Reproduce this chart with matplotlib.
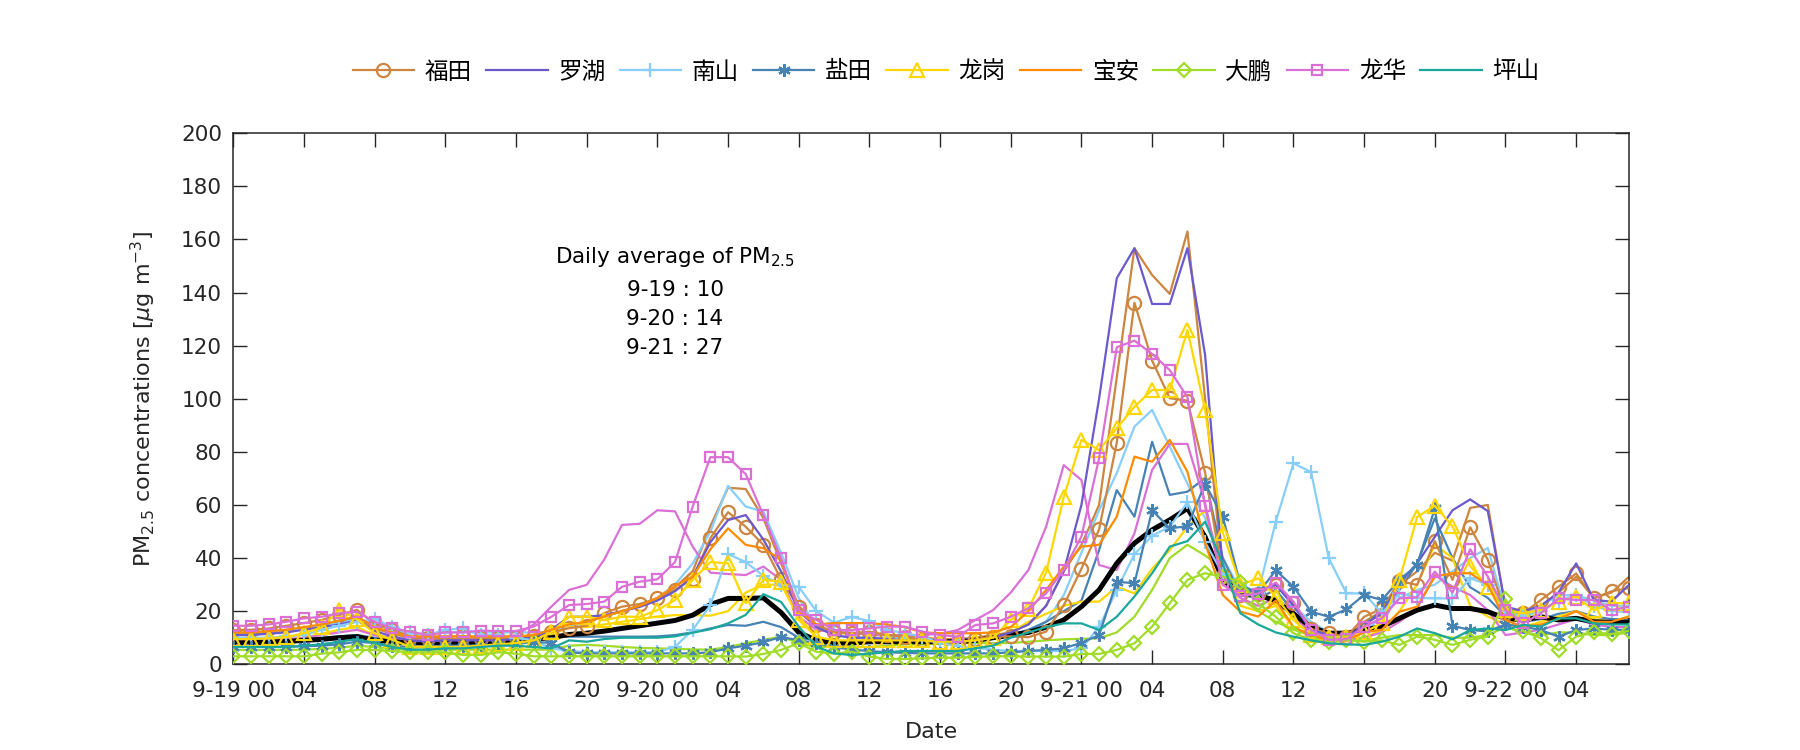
import matplotlib
matplotlib.use('Agg')
import matplotlib.pyplot as plt
import numpy as np

plt.rcParams['font.family'] = ['DejaVu Sans', 'Noto Sans CJK SC']
plt.rcParams['mathtext.fontset'] = 'dejavusans'

hours = np.arange(80)

futian = [12.9, 13.0, 13.5, 14.5, 15.5, 16.7, 18.5, 20.5, 15.2, 13.0,
          10.4, 9.8, 10.4, 10.7, 9.8, 9.8, 10.2, 10.8, 12.0, 13.6,
          14.5, 19.3, 21.7, 22.7, 24.8, 28.0, 32.2, 47.5, 57.3, 51.8,
          45.0, 32.0, 21.7, 14.8, 12.0, 11.7, 12.3, 11.0, 10.4, 9.2,
          8.1, 8.1, 9.4, 10.4, 10.5, 10.2, 12.3, 22.2, 36.0, 50.8,
          83.5, 136.2, 114.4, 100.2, 99.3, 72.2, 33.3, 26.1, 26.5, 29.9,
          23.0, 13.3, 11.7, 10.2, 17.9, 20.9, 31.3, 29.9, 46.4, 31.8,
          51.6, 39.4, 19.2, 19.2, 24.2, 29.2, 34.2, 24.8, 27.5, 28.7]
luohu = [11, 11, 11.5, 12, 13, 14, 15, 16.5, 12.5, 10.5,
         9, 8.5, 9, 9, 9, 9, 9.5, 10, 13, 17.9,
         17.9, 18.5, 20, 21.6, 24, 27.5, 33, 46, 54.3, 56.2,
         47, 35, 20, 14, 11, 10, 10, 9.5, 9, 9,
         8.5, 8.5, 9, 10, 12, 15, 22, 35, 60, 100,
         145.4, 156.7, 135.7, 135.7, 156.7, 116.5, 36, 27, 28, 30,
         22, 13, 11, 10, 15, 19, 30.6, 38, 48, 58,
         62.1, 57.7, 21.7, 20, 22, 27, 38, 24.2, 23.6, 30]
nanshan = [10, 10, 10, 10.5, 11, 13, 14.5, 16, 17, 14,
           12, 11, 13, 13.5, 11, 11, 10, 9, 6, 5,
           4.5, 4.5, 4.5, 4.5, 4.5, 6.6, 12.9, 22.3, 41.5, 38.5,
           33.3, 30, 29.2, 20, 15.7, 17.8, 16.3, 12.9, 11.7, 10.4,
           8, 6.8, 6.2, 5.5, 5, 5, 5, 5, 6, 14,
           28, 41.5, 48.4, 51.8, 61, 46, 34, 30, 27, 53.7,
           75.7, 72.4, 39.9, 26.7, 26.7, 19.2, 26.7, 25, 24.8, 24.8,
           32.4, 30, 20, 18, 20, 24, 26, 22, 20, 20]
yantian = [6.6, 6.6, 6.6, 6.6, 6.8, 7, 7.5, 8.5, 8, 7,
           6.5, 6.5, 7, 7, 7, 7.5, 7.5, 8.5, 8, 4.5,
           4.1, 4.1, 4.1, 4.1, 4.1, 4.1, 4.1, 4.5, 6, 7,
           8.3, 10.3, 9, 8, 6.5, 5.5, 5, 4.5, 4.3, 4.1,
           4.1, 4.1, 4.1, 4.1, 4.5, 5, 5.4, 6, 8.1, 11,
           31.1, 30.5, 58, 51.2, 52, 68, 55.6, 29.9, 26.7, 35.4,
           29.2, 19.8, 17.9, 20.7, 26.1, 24.2, 31.8, 37.4, 58.7, 14.5,
           12.9, 12.4, 15, 14.2, 12.9, 10.4, 12.9, 13.5, 13, 12.9]
longgang = [9.5, 9.5, 9.8, 10.2, 11.7, 13.9, 20.5, 17, 11.7, 9.2,
            6.6, 6.6, 6.5, 6.6, 7, 7.5, 8, 9, 12, 17.9,
            17.9, 16.7, 17.9, 17.9, 20.4, 24.2, 31.8, 38.5, 38, 23,
            31.8, 31.1, 16.7, 10.4, 9, 9, 9, 9, 9, 9,
            8.5, 8.5, 9, 10, 16.7, 21, 34.5, 63, 84.5, 80.7,
            88.9, 97, 103.3, 103.3, 125.9, 95.8, 49.6, 29.9, 32.4, 25.5,
            16.7, 11, 10.4, 10.4, 12, 15.5, 31.8, 55.5, 59.7, 52,
            37, 29.2, 20.4, 19.2, 20.4, 23.6, 25.5, 20.4, 23, 23]
baoan = [12, 12, 12.5, 13, 14, 15, 16.5, 18, 14, 12,
         10.5, 10.5, 10.5, 10.5, 10.5, 10.5, 10.5, 11, 13, 15,
         16, 18, 20, 22, 25, 29.5, 33, 43.3, 51.2, 45,
         43.7, 39.3, 20, 15, 15.5, 15.5, 15.5, 15, 14, 12,
         11.7, 11.7, 11.7, 12, 14, 20, 28, 36.8, 44.3, 45,
         55.6, 78.2, 76.3, 84.5, 72.5, 45.6, 26.1, 19.8, 18, 24,
         14, 11, 9, 9, 12, 13, 19.8, 21.7, 33, 34.3,
         34.3, 29.9, 16.7, 14, 15, 17, 20, 16, 16, 18]
dapeng = [3, 3, 3, 3, 3, 4, 4.5, 5.4, 5.4, 5,
          4.5, 4.5, 4.5, 3.5, 3.5, 4.5, 4, 3, 3, 3,
          3, 3, 3, 3, 3, 3, 3, 3, 3, 2.9,
          3.9, 5.4, 7.9, 4.7, 4, 4.7, 2.9, 2, 2, 2.2,
          2.5, 2.5, 2.8, 3, 3, 2.9, 2.9, 2.9, 3.9, 3.9,
          5.4, 7.9, 14.2, 23, 31.8, 34.3, 33, 31.1, 23, 17.9,
          11.7, 9.2, 8.5, 9.2, 8.5, 9, 7.3, 10.4, 9.2, 7.3,
          9.2, 10.4, 24.5, 12.5, 9.8, 5.3, 10.4, 12, 11.4, 12.6]
longhua = [14.5, 14.5, 15, 16, 17.3, 17.9, 19.2, 19.8, 16, 13.5,
           12.3, 11, 12, 12, 12.7, 12.5, 12.5, 14.2, 17.9, 22.3,
           22.7, 23.6, 29.2, 31.1, 32, 38.5, 59.4, 78, 78, 71.6,
           56.2, 39.9, 20.4, 16.7, 12.9, 12.9, 13.5, 14.2, 14.2, 12.3,
           11, 10.4, 14.8, 15.4, 17.9, 21.1, 26.7, 35.5, 48.1, 77.6,
           119.4, 121.9, 116.9, 110.8, 100.6, 59.5, 29.9, 25.8, 26.6, 30.8,
           23.6, 12.9, 9.2, 9.4, 14.2, 17.3, 24.8, 25.2, 34.9, 27,
           43.3, 33, 20.4, 15.4, 19.2, 24.8, 24.2, 24.2, 20.4, 21.7]
pingshan = [6.5, 6.5, 6.5, 6.5, 7, 7.5, 8.5, 9.5, 8, 6.5,
            5.5, 5.5, 6, 6, 6.5, 7, 7, 6.5, 6, 9,
            8.5, 9.5, 10, 10, 10, 10.5, 11.9, 13.2, 15.4, 18.6,
            26.4, 23.5, 14.2, 6.6, 4.1, 3.5, 4, 4.5, 5, 5,
            5, 5, 6, 7, 10, 12, 14, 15.4, 15.4, 12.9,
            17.9, 25.5, 34.3, 44.3, 46.4, 53.7, 38, 19.2, 15, 12,
            10.4, 9, 7.9, 7.5, 7.3, 8.5, 10.4, 13.5, 11.7, 9.4,
            12.9, 13.5, 12.9, 14.8, 14.2, 17.3, 17.3, 15.4, 15, 15]

# second stations (no legend entry)
futian2 = [11.5, 11.5, 12, 12.5, 13.5, 14.5, 16, 17.5, 13.5, 11.5,
           10, 9.5, 9.5, 9.5, 9.5, 9.5, 10, 10.5, 12, 14,
           16, 18, 20, 22, 25, 29, 35, 52, 66.5, 66,
           55, 38, 22, 15, 12, 11.5, 11.5, 11, 10.5, 10,
           9.5, 9.5, 10, 11, 12, 15, 22, 35, 45, 60,
           108, 156.7, 146.6, 139.5, 163, 100, 34, 26, 27, 30,
           23, 14, 11, 10, 16, 20, 30, 35, 42, 39,
           58.9, 60, 21, 20, 22, 27, 33, 25, 27, 33]
nanshan2 = [12, 12, 12.5, 13, 13.5, 14.5, 15.5, 17, 15, 13,
            11.5, 11.5, 12, 12, 12, 12, 12, 12, 12, 14,
            16, 18, 20, 22, 25, 30, 38, 50, 67.2, 59.4,
            57.5, 42, 25, 14, 11, 10, 10, 10, 10, 9.5,
            9, 9, 9.5, 10, 11, 12, 16, 26, 42, 58,
            72, 89.5, 95.8, 82, 68, 55, 40, 28, 25, 24,
            22, 16, 12, 10, 12, 18, 25, 28, 30, 35,
            40, 43.8, 20, 18, 22, 26, 26, 24, 22, 22]
yantian2 = [9.5, 9.5, 9.5, 9.5, 9.5, 10, 10.5, 11, 10, 9.5,
            9, 9, 9, 9, 9, 9, 9.5, 10, 10.4, 10.4,
            10.4, 10.4, 10.4, 10.4, 10.5, 11, 12, 13.5, 14.8, 14.5,
            16, 14, 10, 9, 8.5, 8.5, 8.5, 8.5, 8.5, 8.5,
            8.5, 8.5, 9, 10, 11, 13, 16, 20, 24, 43,
            65.6, 55.6, 83.8, 63.8, 65, 70.2, 40, 26, 25, 28,
            20, 13, 11, 10, 15, 20, 28, 38, 55, 40,
            29, 25, 18, 16, 17, 19, 20, 18, 17, 17]
longgang2 = [8.5, 8.5, 8.5, 9, 10, 11.5, 13, 14, 11, 9,
             8, 8, 8, 8, 8, 8, 8.5, 9, 11, 14,
             14, 15, 16, 17, 18, 18.5, 18.5, 18.3, 20, 27,
             30, 30, 18, 10, 8.5, 8.5, 8.5, 8.5, 8.5, 8.5,
             8.5, 8.5, 9, 10, 12, 16, 19, 22, 23.6, 23.6,
             29.2, 26.7, 36, 43, 51.8, 58, 35, 22, 20, 22,
             14, 10, 9, 9, 10, 13, 20, 30, 45, 40,
             22, 18, 15, 14, 16, 18, 20, 17, 16, 18]
dapeng2 = [5.4, 5.4, 5.4, 5.4, 5.5, 5.8, 6.2, 7, 6.5, 6,
           5.5, 5.5, 5.5, 5.5, 5.5, 5.5, 5.5, 5.5, 5.5, 7,
           7.3, 7, 6.5, 6.2, 6, 5.8, 5.6, 5.5, 6.5, 7.9,
           9.2, 10.4, 8, 6.5, 6.5, 6.5, 6.5, 7, 7.5, 7.5,
           7.8, 8, 8, 8, 8, 8.5, 9, 9.4, 9.6, 9.8,
           12, 17.9, 28, 40, 45, 41, 36, 25, 20, 16,
           13, 11, 10, 9, 9, 10, 11, 11, 11, 10,
           10, 11, 14, 12, 11, 12, 12, 11, 11, 12]
longhua2 = [9, 9, 9, 9.5, 10, 11, 12, 13, 11, 10,
            9, 9, 9, 9, 9.5, 10, 11, 15, 21.7, 28,
            29.9, 39.5, 52.5, 52.9, 58, 57.6, 44.3, 34.5, 34, 33.6,
            36.8, 31.8, 18, 13, 12, 12, 11, 11, 11, 11,
            11.5, 12.9, 16.7, 20.4, 27, 35.5, 51.8, 75, 69.4, 37.4,
            35.5, 49.3, 73.2, 83, 83, 60.6, 30.5, 25, 22, 25,
            18, 12, 9, 9, 10, 12, 16, 21.1, 33.6, 29.2,
            26.1, 20.4, 11, 12, 13, 15, 17, 15, 14, 14]
average = [8.1, 8.1, 8.3, 8.6, 9, 9.4, 10, 10.4, 9, 8.5,
           8, 8, 8, 8, 8.5, 8.5, 9, 9.5, 10, 11.2,
           11.7, 12.5, 13.5, 14.5, 15.5, 16.5, 18.5, 22.5, 24.8, 24.8,
           25, 19.5, 12, 9, 8, 8, 8.5, 8.5, 8.5, 8.5,
           8.5, 8.5, 9, 10, 11, 12, 14, 16.7, 21.7, 28,
           38, 45.6, 50.6, 54.4, 58.7, 48, 31.8, 27, 26, 24,
           19, 14, 11.7, 11.7, 12.9, 14.2, 17.3, 20.4, 22.3, 21,
           21, 19.8, 17.3, 16.7, 17.9, 16.7, 17.3, 16, 15.8, 15.8]

names = ['福田', '罗湖', '南山', '盐田', '龙岗', '宝安', '大鹏', '龙华', '坪山']
daily_dates = ['9-19', '9-20', '9-21']
daily_avg = [10, 14, 27]
tick_hours = list(range(0, 80, 4))
tick_labels = ['9-19 00', '04', '08', '12', '16', '20',
               '9-20 00', '04', '08', '12', '16', '20',
               '9-21 00', '04', '08', '12', '16', '20',
               '9-22 00', '04']

colors = {'福田': '#CD853F', '罗湖': '#6A5ACD', '南山': '#87CEFA', '盐田': '#4682B4',
          '龙岗': '#FFD700', '宝安': '#FF8C00', '大鹏': '#A0DC28', '龙华': '#DA70D6',
          '坪山': '#1AA79C'}
asterisk = (6, 2, 0)
styles = {'福田': ('o', 9.5), '罗湖': (None, 0), '南山': ('+', 10), '盐田': (asterisk, 9),
          '龙岗': ('^', 9.5), '宝安': (None, 0), '大鹏': ('D', 7), '龙华': ('s', 7),
          '坪山': (None, 0)}
main = {'福田': futian, '罗湖': luohu, '南山': nanshan, '盐田': yantian, '龙岗': longgang,
        '宝安': baoan, '大鹏': dapeng, '龙华': longhua, '坪山': pingshan}
second = [('福田', futian2), ('南山', nanshan2), ('盐田', yantian2), ('龙岗', longgang2),
          ('大鹏', dapeng2), ('龙华', longhua2)]

fig = plt.figure(figsize=(18, 7.5), dpi=100)
ax = fig.add_axes([0.1296, 0.1143, 0.7755, 0.708])

lw = 1.6
for name, vals in second:
    ax.plot(hours, vals, color=colors[name], lw=lw, zorder=2)

ax.plot(hours, average, color='black', lw=3.6, zorder=3, solid_capstyle='round')

handles = []
for name in names:
    m, ms = styles[name]
    h, = ax.plot(hours, main[name], color=colors[name], lw=lw,
                 marker=m, markersize=ms, markerfacecolor='none',
                 markeredgewidth=1.6, zorder=4, label=name)
    handles.append(h)

ax.set_xlim(0, 79)
ax.set_ylim(0, 200)
ax.set_yticks(range(0, 201, 20))
ax.set_xticks(tick_hours)
ax.set_xticklabels(tick_labels)

axcol = '#262626'
for s in ax.spines.values():
    s.set_color(axcol)
    s.set_linewidth(1.1)
ax.tick_params(direction='in', length=10, width=1.0, colors=axcol, labelsize=15.5,
               top=True, right=True, labelcolor=axcol)
ax.tick_params(axis='x', pad=12)
ax.tick_params(axis='y', pad=8)

ax.set_xlabel('Date', fontsize=16, color=axcol)
ax.xaxis.set_label_coords(0.5, -0.108)
ax.set_ylabel(r'PM$_{2.5}$ concentrations [$\mu$g m$^{-3}$]', fontsize=16, color=axcol)
ax.yaxis.set_label_coords(-0.054, 0.5)

tx = 25.0
ax.text(tx, 153.5, r'Daily average of PM$_{2.5}$', ha='center', va='center', fontsize=15.5, color='black')
for i, (d, v) in enumerate(zip(daily_dates, daily_avg)):
    ax.text(tx, 141 - i * 11, f'{d} : {v}', ha='center', va='center', fontsize=15.5, color='black')

fig.legend(handles=handles, labels=names, loc='center', ncol=9,
           bbox_to_anchor=(0.5256, 0.904), frameon=False, fontsize=17,
           handlelength=2.6, handletextpad=0.45, columnspacing=0.6,
           prop={'family': ['Noto Sans CJK SC'], 'size': 17})

fig.savefig('out.png', dpi=100)
